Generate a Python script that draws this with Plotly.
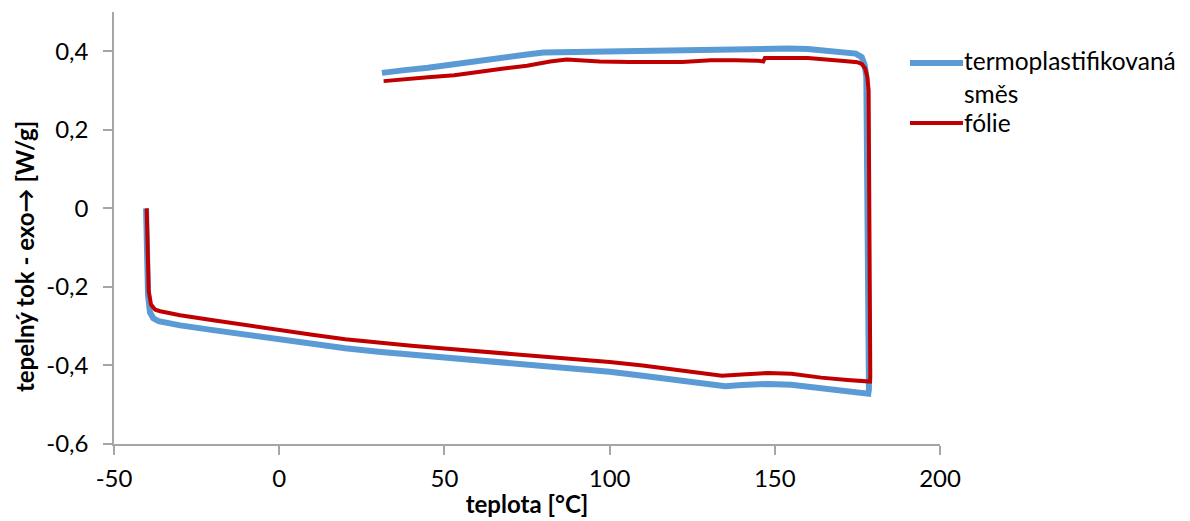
import plotly.graph_objects as go

# termoplastifikovaná směs (blue)
blue_x = [-40.3, -40.1, -39.7, -39.1, -38.1, -36.5, -30, -20, -10, 0, 10, 20, 30, 40, 50, 60, 70, 80, 90,
          100, 110, 120, 128, 135, 140, 148, 155, 165, 175, 178.3, 178.5, 178.4, 178.2, 178.0, 177.7,
          177.2, 176.3, 174.5, 170, 166, 160, 154, 145, 135, 120, 107, 95, 85, 80, 75, 68, 60, 53, 45, 38, 31.1]
blue_y = [0.0, -0.12, -0.22, -0.265, -0.28, -0.287, -0.298, -0.31, -0.322, -0.334, -0.345, -0.356, -0.365,
          -0.372, -0.38, -0.387, -0.393, -0.4, -0.408, -0.416, -0.426, -0.438, -0.448, -0.453, -0.45,
          -0.447, -0.449, -0.458, -0.468, -0.472, -0.46, -0.3, 0.0, 0.3, 0.335, 0.365, 0.385, 0.394,
          0.398, 0.404, 0.406, 0.407, 0.406, 0.404, 0.401, 0.398, 0.398, 0.399, 0.397, 0.392, 0.384,
          0.372, 0.364, 0.358, 0.352, 0.345]

# fólie (red)
red_x = [-40.1, -39.9, -39.5, -38.8, -37.5, -36, -30, -20, -10, 0, 10, 20, 30, 40, 50, 60, 70, 80, 90,
         100, 110, 120, 128, 134, 140, 148, 155, 164, 172, 178.8, 178.9, 178.7, 178.4, 178.0, 177.4,
         176.4, 175, 170, 165, 160, 152, 147, 146.5, 145, 138, 130.6, 122, 115.5, 106, 97, 90, 87, 82, 75,
         68, 60, 53, 45, 38, 31.6]
red_y = [0.0, -0.12, -0.21, -0.245, -0.258, -0.262, -0.272, -0.285, -0.298, -0.31, -0.322, -0.333,
         -0.342, -0.35, -0.357, -0.364, -0.37, -0.376, -0.383, -0.391, -0.4, -0.411, -0.421, -0.426,
         -0.423, -0.419, -0.421, -0.431, -0.437, -0.441, -0.43, 0.0, 0.3, 0.335, 0.355, 0.367, 0.372,
         0.376, 0.380, 0.383, 0.383, 0.383, 0.374, 0.376, 0.377, 0.377, 0.373, 0.372, 0.373, 0.374,
         0.379, 0.379, 0.374, 0.363, 0.356, 0.347, 0.339, 0.334, 0.329, 0.324]

x_ticks = [-50, 0, 50, 100, 150, 200]
y_ticks = [-0.6, -0.4, -0.2, 0, 0.2, 0.4]
y_tick_text = ["-0,6", "-0,4", "-0,2", "0", "0,2", "0,4"]

series_names = ["termoplastifikovaná směs", "fólie"]
series_colors = ["#5B9BD5", "#C00000"]
series_widths = [6, 4]

FONT = "Lato"
FS = 24
LFS = 24.5
fig = go.Figure()
fig.add_trace(go.Scatter(x=blue_x, y=blue_y, mode="lines", name=series_names[0], showlegend=False,
                         line=dict(color=series_colors[0], width=series_widths[0])))
fig.add_trace(go.Scatter(x=red_x, y=red_y, mode="lines", name=series_names[1], showlegend=False,
                         line=dict(color=series_colors[1], width=series_widths[1])))

axis_common = dict(showgrid=False, zeroline=False, showline=True, linecolor="#A6A6A6", linewidth=1.5,
                   ticks="outside", ticklen=9, tickcolor="#A6A6A6", tickwidth=1.5,
                   tickfont=dict(family=FONT, size=FS, color="#000"))
fig.update_xaxes(range=[-50, 200], tickvals=x_ticks, ticktext=[str(v) for v in x_ticks],
                 ticklabelstandoff=3,
                 title=dict(text="<b>teplota [°C]</b>", font=dict(family=FONT, size=FS, color="#000"),
                            standoff=6),
                 **axis_common)
fig.update_yaxes(range=[-0.6, 0.5], tickvals=y_ticks, ticktext=y_tick_text, ticklabelstandoff=10,
                 **axis_common)

fig.add_annotation(text="<b>tepelný tok - exo→ [W/g]</b>", textangle=-90, xref="paper", yref="paper",
                   x=-0.109, y=0.435, showarrow=False, xanchor="center", yanchor="middle",
                   font=dict(family=FONT, size=FS, color="#000"))

# manual legend (Excel-style long line symbols)
PW, PH = 826.0, 432.0
def px_x(p):
    return (p - 114) / PW
def px_y(p):
    return (444 - p) / PH

legend_rows = [(63, 0), (123, 1)]
for ypix, i in legend_rows:
    fig.add_shape(type="line", xref="paper", yref="paper", x0=px_x(910), x1=px_x(963),
                  y0=px_y(ypix), y1=px_y(ypix), line=dict(color=series_colors[i], width=series_widths[i]))
legend_texts = [("termoplastifikovaná", 60), ("směs", 94), ("fólie", 122)]
for t, ypix in legend_texts:
    fig.add_annotation(text=t, xref="paper", yref="paper", x=px_x(963), y=px_y(ypix), showarrow=False,
                       xanchor="left", yanchor="middle", borderpad=0,
                       font=dict(family=FONT, size=LFS, color="#000"))

# page body has an 8px margin: shift the figure so the plot area lands at the same pixels
fig.update_layout(
    width=1182, height=513,
    margin=dict(l=106, r=250, t=4, b=77),
    plot_bgcolor="white", paper_bgcolor="white",
    showlegend=False,
)

fig.write_html("out.html")
